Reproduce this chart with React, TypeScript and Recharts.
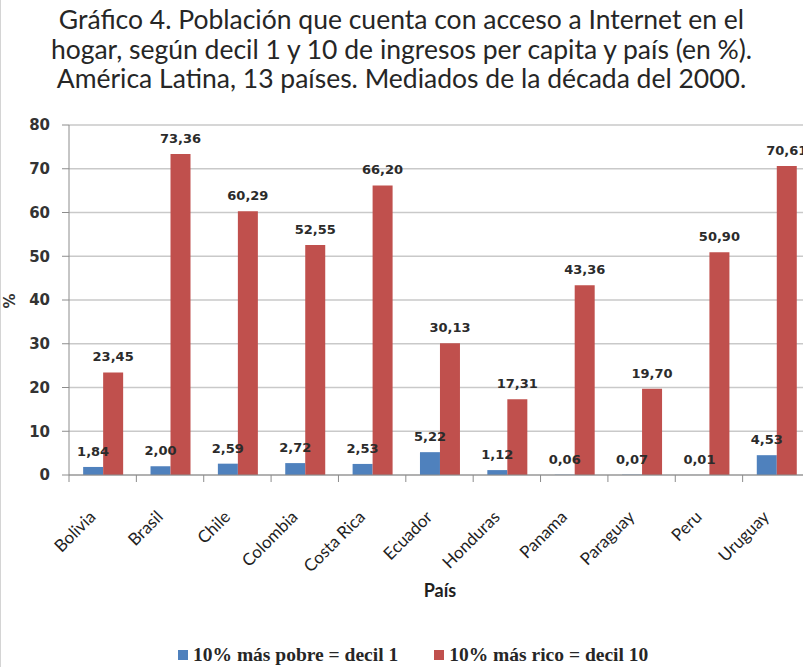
import React from 'react';
import { BarChart, Bar, XAxis, YAxis, CartesianGrid, LabelList } from 'recharts';

const countries = ['Bolivia', 'Brasil', 'Chile', 'Colombia', 'Costa Rica', 'Ecuador', 'Honduras', 'Panama', 'Paraguay', 'Peru', 'Uruguay'];
const decil1 = [1.84, 2.0, 2.59, 2.72, 2.53, 5.22, 1.12, 0.06, 0.07, 0.01, 4.53];
const decil10 = [23.45, 73.36, 60.29, 52.55, 66.2, 30.13, 17.31, 43.36, 19.7, 50.9, 70.61];
const yTicks = [0, 10, 20, 30, 40, 50, 60, 70, 80];
const seriesNames = ['10% más pobre = decil 1', '10% más rico = decil 10'];
const seriesColors = ['#4f81bd', '#c0504d'];
const titleLines = [
  'Gráfico 4. Población que cuenta con acceso a Internet en el',
  'hogar, según decil 1 y 10 de ingresos per capita y país (en %).',
  'América Latina, 13 países. Mediados de la década del 2000.',
];
const xAxisTitle = 'País';
const yAxisTitle = '%';

const data = countries.map((c, i) => ({ pais: c, d1: decil1[i], d10: decil10[i] }));

const fmt = (v: any) => Number(v).toFixed(2).replace('.', ',');

const XTick = (props: any) => {
  const { x, y, payload } = props;
  const half = payload && payload.offset ? payload.offset : 33.6;
  return (
    <g>
      <line x1={x - half} x2={x - half} y1={y} y2={y + 7} stroke="#8c8c8c" strokeWidth={1} />
      <text
        x={x - 6}
        y={y + 43}
        transform={`rotate(-45, ${x - 6}, ${y + 43})`}
        textAnchor="end"
        fontFamily="Lato"
        fontSize={17}
        fill="#1f1f1f"
      >
        {payload.value}
      </text>
    </g>
  );
};

const labelStyle = { fontFamily: 'DejaVu Sans', fontWeight: 'bold' as const, fontSize: 13, fill: '#2b2b2b' };

export default function App() {
  return (
    <div style={{ position: 'absolute', left: 0, top: 0, width: 803, height: 667, overflow: 'hidden', background: '#fff' }}>
      <div style={{ position: 'absolute', left: 0, top: 0, bottom: 0, width: 1, background: '#d4d4d4' }} />
      <div
        style={{
          position: 'absolute',
          left: 0,
          top: 5,
          width: 803,
          textAlign: 'center',
          fontFamily: 'Lato',
          fontSize: 26.5,
          lineHeight: '29.5px',
          color: '#262626',
          whiteSpace: 'nowrap',
        }}
      >
        {titleLines.map((t, i) => (
          <div key={i}>{t}</div>
        ))}
      </div>
      <BarChart
        width={810}
        height={667}
        data={data}
        margin={{ top: 125, right: 0, left: 0, bottom: 0 }}
        barCategoryGap="21%"
        barGap={0}
      >
        <CartesianGrid vertical={false} stroke="#c9c9c9" strokeWidth={1.3} />
        <XAxis
          dataKey="pais"
          interval={0}
          height={192}
          tick={<XTick />}
          tickLine={false}
          tickSize={0}
          tickMargin={0}
          axisLine={{ stroke: '#8c8c8c' }}
        />
        <YAxis
          domain={[0, 80]}
          ticks={yTicks}
          width={69}
          tickSize={7}
          tickMargin={12}
          tickLine={{ stroke: '#8c8c8c' }}
          axisLine={{ stroke: '#8c8c8c' }}
          tick={{ fontFamily: 'DejaVu Sans', fontWeight: 'bold', fontSize: 15, fill: '#333' }}
        />
        <Bar dataKey="d1" name={seriesNames[0]} fill={seriesColors[0]} isAnimationActive={false}>
          <LabelList dataKey="d1" position="top" offset={11} formatter={fmt} style={labelStyle} />
        </Bar>
        <Bar dataKey="d10" name={seriesNames[1]} fill={seriesColors[1]} isAnimationActive={false}>
          <LabelList dataKey="d10" position="top" offset={11} formatter={fmt} style={labelStyle} />
        </Bar>
        <text x={440} y={597} textAnchor="middle" fontFamily="Lato" fontWeight="bold" fontSize={18} fill="#1f1f1f">
          {xAxisTitle}
        </text>
        <text x={15} y={301} textAnchor="middle" transform="rotate(-90, 15, 301)" fontFamily="DejaVu Sans" fontWeight="bold" fontSize={15} fill="#333">
          {yAxisTitle}
        </text>
      </BarChart>
      <div
        style={{
          position: 'absolute',
          left: 178,
          top: 644,
          display: 'flex',
          alignItems: 'center',
          fontFamily: 'Liberation Serif',
          fontWeight: 'bold',
          fontSize: 19.5,
          color: '#262626',
          whiteSpace: 'nowrap',
        }}
      >
        {seriesNames.map((n, i) => (
          <div key={i} style={{ display: 'flex', alignItems: 'center', marginRight: i === 0 ? 36 : 0 }}>
            <span style={{ display: 'inline-block', width: 10, height: 10, background: seriesColors[i], marginRight: 5 }} />
            <span>{n}</span>
          </div>
        ))}
      </div>
    </div>
  );
}
